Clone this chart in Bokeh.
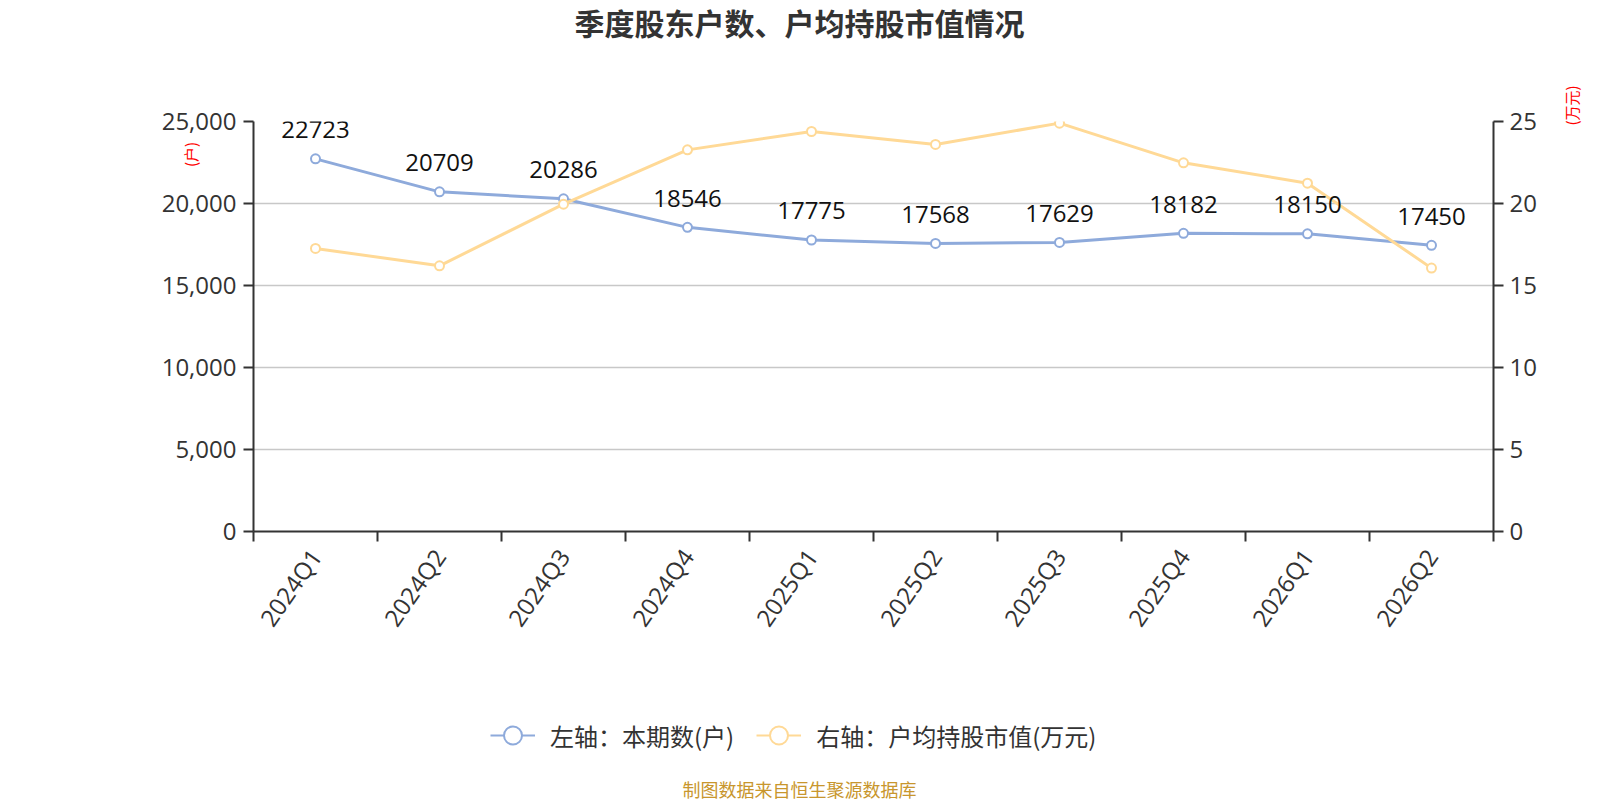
import math
from bokeh.plotting import figure
from bokeh.layouts import column
from bokeh.models import (Range1d, LinearAxis, FixedTicker, NumeralTickFormatter, Label,
                          Legend, LegendItem, Grid, CustomJSTickFormatter)
from bokeh.core.properties import value
from bokeh.embed import file_html
from bokeh.resources import INLINE

quarters = ["2024Q1", "2024Q2", "2024Q3", "2024Q4", "2025Q1",
            "2025Q2", "2025Q3", "2025Q4", "2026Q1", "2026Q2"]
holders = [22723, 20709, 20286, 18546, 17775, 17568, 17629, 18182, 18150, 17450]
avg_value = [17.26, 16.20, 19.96, 23.27, 24.39, 23.60, 24.90, 22.48, 21.24, 16.06]
left_ticks = [0, 5000, 10000, 15000, 20000, 25000]
right_ticks = [0, 5, 10, 15, 20, 25]
series_names = ["左轴：本期数(户)", "右轴：户均持股市值(万元)"]

CJK = "Noto Sans CJK SC"
NUM = "Open Sans"
BLUE = "#8eaadb"
YELLOW = "#ffd996"
AXIS = "#333333"

xs = [i + 0.5 for i in range(len(quarters))]

# ---------------- main chart ----------------
p = figure(frame_width=1240, frame_height=410,
           x_range=Range1d(0, len(quarters)), y_range=Range1d(0, 25000),
           output_backend="svg", toolbar_location=None,
           min_border_left=253, min_border_right=107, min_border_top=121, min_border_bottom=139,
           x_axis_type=None, y_axis_type=None)
p.outline_line_color = None
p.title.text = ""
p.extra_y_ranges = {"right": Range1d(0, 25)}

p.add_layout(Grid(dimension=1, ticker=FixedTicker(ticks=left_ticks),
                  grid_line_color="#c8c8c8", grid_line_width=1.5))

def style_axis(ax):
    ax.axis_line_color = AXIS
    ax.axis_line_width = 2
    ax.major_tick_line_color = AXIS
    ax.major_tick_line_width = 2
    ax.major_tick_out = 10
    ax.major_tick_in = 0
    ax.minor_tick_line_color = None
    ax.major_label_text_font = NUM
    ax.major_label_text_font_size = "24px"
    ax.major_label_text_color = AXIS

left = LinearAxis(ticker=FixedTicker(ticks=left_ticks), formatter=NumeralTickFormatter(format="0,0"))
style_axis(left)
left.major_label_standoff = 7
p.add_layout(left, "left")

right = LinearAxis(y_range_name="right", ticker=FixedTicker(ticks=right_ticks))
style_axis(right)
right.major_label_standoff = 6
p.add_layout(right, "right")

bottom = LinearAxis(ticker=FixedTicker(ticks=xs, minor_ticks=list(range(len(quarters) + 1))),
                    formatter=CustomJSTickFormatter(args=dict(labels=quarters),
                                                    code="return labels[Math.floor(tick)] || ''"))
style_axis(bottom)
bottom.major_tick_line_color = None
bottom.minor_tick_line_color = AXIS
bottom.minor_tick_line_width = 2
bottom.minor_tick_out = 10
bottom.minor_tick_in = 0
bottom.major_label_orientation = math.radians(55)
bottom.major_label_standoff = 10
p.add_layout(bottom, "below")

bl = p.line(xs, holders, line_color=BLUE, line_width=3)
bs = p.scatter(xs, holders, size=9, fill_color="white", line_color=BLUE, line_width=2)
yl = p.line(xs, avg_value, line_color=YELLOW, line_width=3, y_range_name="right")
ys = p.scatter(xs, avg_value, size=9, fill_color="white", line_color=YELLOW, line_width=2,
               y_range_name="right")

p.text(x=xs, y=holders, text=[str(v) for v in holders], y_offset=-29,
       text_align="center", text_baseline="middle", text_font=value(NUM),
       text_font_size="24px", text_color="#111111")

# axis names and title (side panels, so they are not clipped to the frame)
p.add_layout(Label(x=-0.508, y=22988, text="(户)", angle=math.pi / 2, text_color="red",
                   text_font=CJK, text_font_size="15px", text_align="center",
                   text_baseline="middle"), "left")
p.add_layout(Label(x=10.63, y=25976, text="(万元)", angle=math.pi / 2, text_color="red",
                   text_font=CJK, text_font_size="15px", text_align="center",
                   text_baseline="middle"), "right")
p.add_layout(Label(x=4.403, y=31037, text="季度股东户数、户均持股市值情况", text_color="#333333",
                   text_font=CJK, text_font_size="30px", text_font_style="bold",
                   text_align="center", text_baseline="middle"), "above")

# ---------------- legend + footer strip (frame aligned with the chart's frame) ----------------
p2 = figure(width=1600, height=130, x_range=Range1d(253, 1493), y_range=Range1d(0, 130),
            output_backend="svg", toolbar_location=None, min_border=0,
            x_axis_type=None, y_axis_type=None)
p2.outline_line_color = None
p2.title.text = ""
nan = float("nan")
l1 = p2.line([nan], [nan], line_color=BLUE, line_width=2)
s1 = p2.scatter([nan], [nan], fill_color="white", line_color=BLUE, line_width=2)
l2 = p2.line([nan], [nan], line_color=YELLOW, line_width=2)
s2 = p2.scatter([nan], [nan], fill_color="white", line_color=YELLOW, line_width=2)
legend = Legend(items=[LegendItem(label=series_names[0], renderers=[l1, s1]),
                       LegendItem(label=series_names[1], renderers=[l2, s2])],
                orientation="horizontal", location=(237, 40),
                glyph_width=45, glyph_height=50, label_text_font=CJK,
                label_text_font_size="24px", label_text_color="#333333",
                spacing=22, label_standoff=15, padding=0, margin=0,
                background_fill_alpha=0, border_line_alpha=0)
p2.add_layout(legend)
p2.add_layout(Label(x=799, y=12, text="制图数据来自恒生聚源数据库", text_color="#c8962d",
                    text_font=CJK, text_font_size="18px",
                    text_align="center", text_baseline="middle"))

layout = column(p, p2, spacing=0)
open("out.html", "w").write(file_html(layout, INLINE))
